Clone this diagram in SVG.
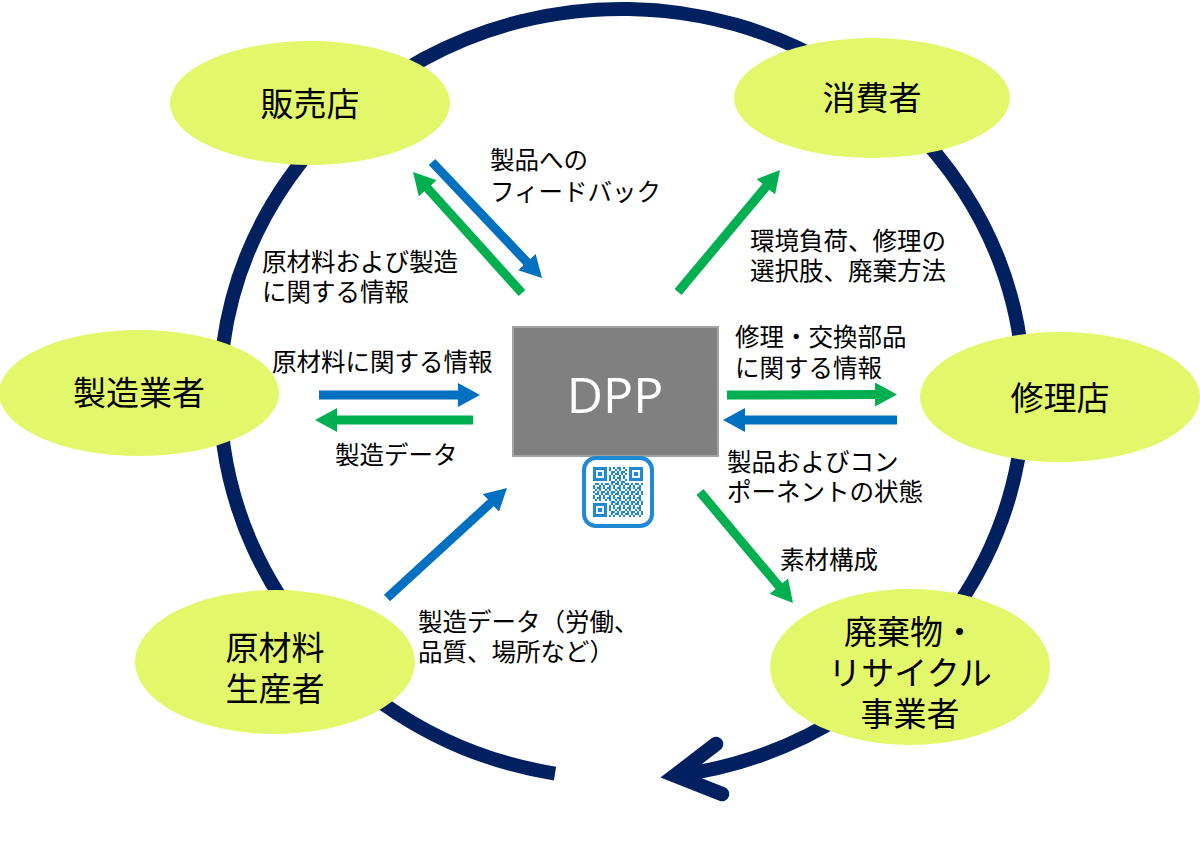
<svg xmlns="http://www.w3.org/2000/svg" width="1200" height="844" viewBox="0 0 1200 844">
  <defs>
    <style>
      .node { fill: #e3f76b; }
      .nlabel { font-family: "Noto Sans CJK JP", sans-serif; font-size: 33px; fill: #000; text-anchor: middle; }
      .label { font-family: "Noto Sans CJK JP", sans-serif; font-size: 24.5px; fill: #000; }
      .blue { stroke: #0070c0; stroke-width: 9; fill: none; marker-end: url(#headBlue); }
      .green { stroke: #00b050; stroke-width: 9; fill: none; marker-end: url(#headGreen); }
      .qr { fill: #1f8ad3; }
    </style>
    <marker id="headBlue" viewBox="0 0 22 24" markerWidth="22" markerHeight="24" refX="6" refY="12" orient="auto" markerUnits="userSpaceOnUse">
      <path d="M0,0 L22,12 L0,24 z" fill="#0070c0"/>
    </marker>
    <marker id="headGreen" viewBox="0 0 22 24" markerWidth="22" markerHeight="24" refX="6" refY="12" orient="auto" markerUnits="userSpaceOnUse">
      <path d="M0,0 L22,12 L0,24 z" fill="#00b050"/>
    </marker>
    <pattern id="qrdata" x="593" y="467" width="10" height="10" patternUnits="userSpaceOnUse">
      <path d="M0,0h2v2h-2z M4,0h4v2h-4z M2,2h2v2h-2z M6,2h2v2h-2z M0,4h2v2h-2z M4,4h2v2h-2z M8,4h2v2h-2z M2,6h4v2h-4z M8,6h2v2h-2z M0,8h2v2h-2z M6,8h2v2h-2z" fill="#1f8ad3"/>
    </pattern>
  </defs>

  <rect width="1200" height="844" fill="#ffffff"/>

  <!-- cycle ring -->
  <g id="cycle">
    <path d="M555,773.6 A402,385 0 1 1 675,775.6" fill="none" stroke="#002060" stroke-width="14"/>
    <path d="M716,744 L675,775.5 L722,794" fill="none" stroke="#002060" stroke-width="14.5" stroke-linecap="round" stroke-linejoin="miter"/>
  </g>

  <!-- nodes -->
  <g id="node-hanbaiten">
    <ellipse class="node" cx="310" cy="103" rx="140" ry="62"/>
    <text class="nlabel" x="310" y="116">販売店</text>
  </g>
  <g id="node-shohisha">
    <ellipse class="node" cx="872" cy="98" rx="138" ry="60"/>
    <text class="nlabel" x="872" y="110">消費者</text>
  </g>
  <g id="node-seizo">
    <ellipse class="node" cx="139" cy="393" rx="140" ry="63"/>
    <text class="nlabel" x="139" y="405">製造業者</text>
  </g>
  <g id="node-shuri">
    <ellipse class="node" cx="1060" cy="397" rx="140" ry="65"/>
    <text class="nlabel" x="1060" y="410">修理店</text>
  </g>
  <g id="node-genzairyo">
    <ellipse class="node" cx="275" cy="662" rx="140" ry="72"/>
    <text class="nlabel" x="275" y="660">原材料<tspan x="275" dy="41">生産者</tspan></text>
  </g>
  <g id="node-haikibutsu">
    <ellipse class="node" cx="910" cy="667" rx="140" ry="78"/>
    <text class="nlabel" x="910" y="644">廃棄物・<tspan x="910" dy="41">リサイクル</tspan><tspan x="910" dy="41">事業者</tspan></text>
  </g>

  <g id="node-dpp">
    <rect x="513" y="327" width="205" height="129" fill="#808080" stroke="#a3a3a3" stroke-width="2"/>
    <text x="615" y="413" font-family="'Open Sans', 'Noto Sans', sans-serif" font-size="50" fill="#ffffff" text-anchor="middle">DPP</text>
    <g id="qr-icon">
      <rect x="584" y="458" width="68" height="68" rx="12" fill="#ffffff" stroke="#1f8ad3" stroke-width="4"/>
      <path class="qr" fill-rule="evenodd" d="M593,467h14v14h-14z M596,470v8h8v-8z M629,467h14v14h-14z M632,470v8h8v-8z M593,503h14v14h-14z M596,506v8h8v-8z"/>
      <rect class="qr" x="598" y="472" width="4" height="4"/>
      <rect class="qr" x="634" y="472" width="4" height="4"/>
      <rect class="qr" x="598" y="508" width="4" height="4"/>
      <rect x="609" y="467" width="18" height="16" fill="url(#qrdata)"/>
      <rect x="593" y="483" width="50" height="18" fill="url(#qrdata)"/>
      <rect x="609" y="501" width="34" height="16" fill="url(#qrdata)"/>
    </g>
  </g>

  <!-- connectors -->
  <g id="connectors">
    <line class="blue" x1="432" y1="162" x2="531" y2="266.4"/>
    <line class="green" x1="522" y1="293" x2="423.7" y2="183.9"/>
    <line class="green" x1="678" y1="292" x2="769.7" y2="182.3"/>
    <line class="blue" x1="319" y1="395" x2="464" y2="395"/>
    <line class="green" x1="473" y1="420" x2="331" y2="420"/>
    <line class="green" x1="727" y1="395" x2="881" y2="394.5"/>
    <line class="blue" x1="897" y1="420" x2="739" y2="420"/>
    <line class="green" x1="700" y1="492" x2="782.7" y2="590.7"/>
    <line class="blue" x1="387" y1="598" x2="495.2" y2="498.8"/>
  </g>

  <!-- connector labels -->
  <g id="labels">
    <text class="label" x="490" y="169">製品への<tspan x="490" dy="32">フィードバック</tspan></text>
    <text class="label" x="262" y="271">原材料および製造<tspan x="262" dy="30">に関する情報</tspan></text>
    <text class="label" x="750" y="250">環境負荷、修理の<tspan x="750" dy="30">選択肢、廃棄方法</tspan></text>
    <text class="label" x="272" y="371">原材料に関する情報</text>
    <text class="label" x="735" y="346">修理・交換部品<tspan x="735" dy="31">に関する情報</tspan></text>
    <text class="label" x="335" y="464">製造データ</text>
    <text class="label" x="727" y="471">製品およびコン<tspan x="727" dy="30">ポーネントの状態</tspan></text>
    <text class="label" x="780" y="569">素材構成</text>
    <text class="label" x="418" y="631">製造データ（労働、<tspan x="418" dy="30">品質、場所など）</tspan></text>
  </g>
</svg>
